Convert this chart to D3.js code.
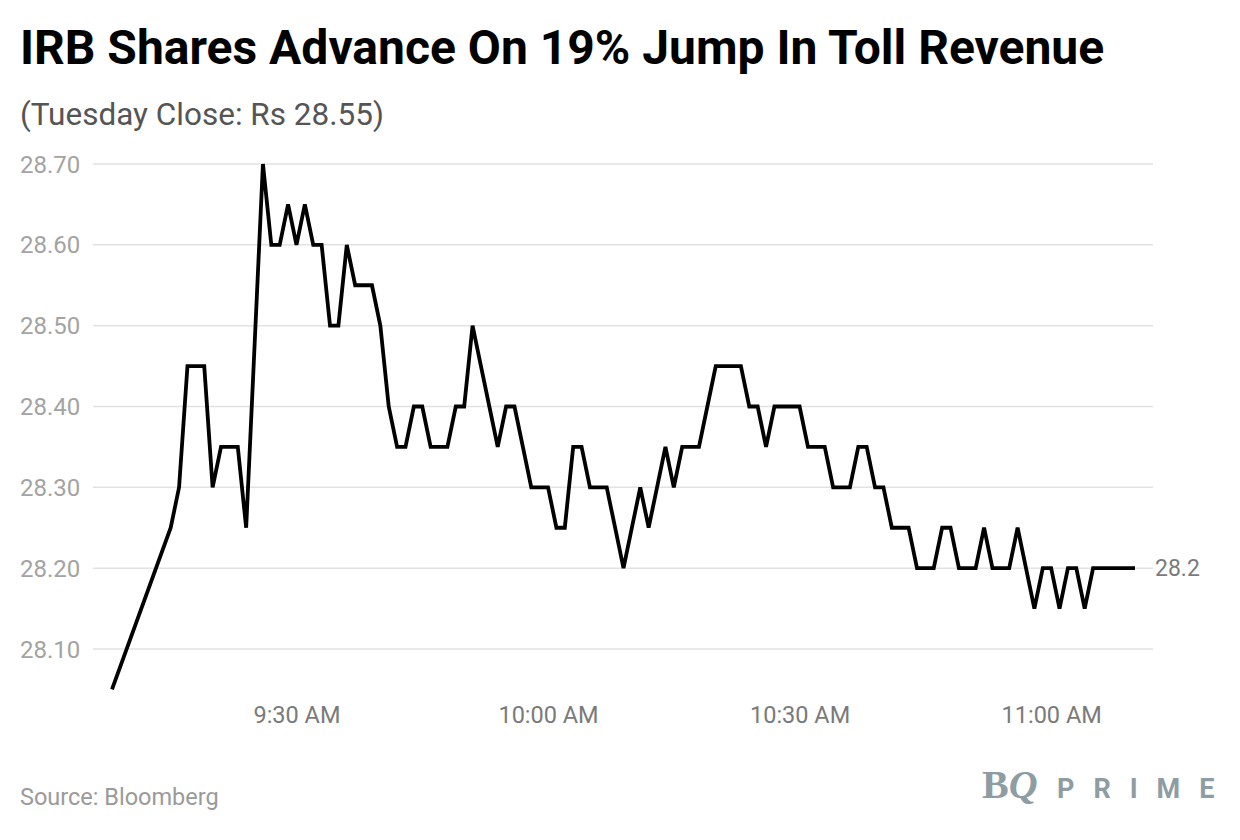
<!DOCTYPE html>
<html>
<head>
<meta charset="utf-8">
<script src="https://cdn.jsdelivr.net/npm/d3@7"></script>
<style>
  body { margin: 0; background: #fff; }
  text { font-family: Roboto, "Noto Sans", sans-serif; }
</style>
</head>
<body>
<div id="canvas"></div>
<script>
// minute-by-minute trade times and prices
const times = [
  "09:08", "09:15", "09:16", "09:17", "09:18", "09:19", "09:20", "09:21", "09:22", "09:23",
  "09:24", "09:26", "09:27", "09:28", "09:29", "09:30", "09:31", "09:32", "09:33", "09:34",
  "09:35", "09:36", "09:37", "09:38", "09:39", "09:40", "09:41", "09:42", "09:43", "09:44",
  "09:45", "09:46", "09:47", "09:48", "09:49", "09:50", "09:51", "09:52", "09:53", "09:54",
  "09:55", "09:56", "09:57", "09:58", "09:59", "10:00", "10:01", "10:02", "10:03", "10:04",
  "10:05", "10:06", "10:07", "10:08", "10:09", "10:10", "10:11", "10:12", "10:13", "10:14",
  "10:15", "10:16", "10:17", "10:18", "10:19", "10:20", "10:21", "10:22", "10:23", "10:24",
  "10:25", "10:26", "10:27", "10:28", "10:29", "10:30", "10:31", "10:32", "10:33", "10:34",
  "10:35", "10:36", "10:37", "10:38", "10:39", "10:40", "10:41", "10:42", "10:43", "10:44",
  "10:45", "10:46", "10:47", "10:48", "10:49", "10:50", "10:51", "10:52", "10:53", "10:54",
  "10:55", "10:56", "10:57", "10:58", "10:59", "11:00", "11:01", "11:02", "11:03", "11:04",
  "11:05", "11:06", "11:07", "11:08", "11:09", "11:10"
];
const prices = [
  28.05, 28.25, 28.30, 28.45, 28.45, 28.45, 28.30, 28.35, 28.35, 28.35,
  28.25, 28.70, 28.60, 28.60, 28.65, 28.60, 28.65, 28.60, 28.60, 28.50,
  28.50, 28.60, 28.55, 28.55, 28.55, 28.50, 28.40, 28.35, 28.35, 28.40,
  28.40, 28.35, 28.35, 28.35, 28.40, 28.40, 28.50, 28.45, 28.40, 28.35,
  28.40, 28.40, 28.35, 28.30, 28.30, 28.30, 28.25, 28.25, 28.35, 28.35,
  28.30, 28.30, 28.30, 28.25, 28.20, 28.25, 28.30, 28.25, 28.30, 28.35,
  28.30, 28.35, 28.35, 28.35, 28.40, 28.45, 28.45, 28.45, 28.45, 28.40,
  28.40, 28.35, 28.40, 28.40, 28.40, 28.40, 28.35, 28.35, 28.35, 28.30,
  28.30, 28.30, 28.35, 28.35, 28.30, 28.30, 28.25, 28.25, 28.25, 28.20,
  28.20, 28.20, 28.25, 28.25, 28.20, 28.20, 28.20, 28.25, 28.20, 28.20,
  28.20, 28.25, 28.20, 28.15, 28.20, 28.20, 28.15, 28.20, 28.20, 28.15,
  28.20, 28.20, 28.20, 28.20, 28.20, 28.20
];
const yTicks = [28.10, 28.20, 28.30, 28.40, 28.50, 28.60, 28.70];
const xTicks = ["09:30", "10:00", "10:30", "11:00"];
const lastLabel = "28.2";

const title = "IRB Shares Advance On 19% Jump In Toll Revenue";
const subtitle = "(Tuesday Close: Rs 28.55)";
const source = "Source: Bloomberg";

const width = 1240;
const height = 840;

const parseTime = d3.timeParse("%H:%M");
const data = times.map((t, i) => ({ time: parseTime(t), price: prices[i] }));

const svg = d3.select("#canvas").append("svg")
    .attr("width", width)
    .attr("height", height);

svg.append("rect").attr("width", width).attr("height", height).attr("fill", "#fff");

const x = d3.scaleTime()
    .domain(d3.extent(data, (d) => d.time))
    .range([112, 1135]);

const y = d3.scaleLinear()
    .domain([28.05, 28.70])
    .range([689.4, 164]);

// gridlines + y labels
const grid = svg.append("g");
grid.selectAll("line").data(yTicks).enter().append("line")
    .attr("x1", 93)
    .attr("x2", 1153)
    .attr("y1", (d) => y(d))
    .attr("y2", (d) => y(d))
    .attr("stroke", "#e2e2e2")
    .attr("stroke-width", 1.5);

grid.selectAll("text").data(yTicks).enter().append("text")
    .attr("x", 20)
    .attr("y", (d) => y(d))
    .attr("dy", "0.36em")
    .attr("fill", "#a3a3a3")
    .style("font-size", "24px")
    .text((d) => d3.format(".2f")(d));

// x axis labels
const xAxis = d3.axisBottom(x)
    .tickValues(xTicks.map(parseTime))
    .tickFormat(d3.timeFormat("%-I:%M %p"))
    .tickSize(0)
    .tickPadding(0);

const gx = svg.append("g")
    .attr("transform", "translate(0,706)")
    .call(xAxis);
gx.select(".domain").remove();
gx.selectAll("text")
    .attr("fill", "#7a7a7a")
    .style("font-family", "Roboto, sans-serif")
    .style("font-size", "23.5px");

// price line
const line = d3.line()
    .x((d) => x(d.time))
    .y((d) => y(d.price));

svg.append("path")
    .datum(data)
    .attr("fill", "none")
    .attr("stroke", "#000")
    .attr("stroke-width", 3.8)
    .attr("stroke-linejoin", "miter")
    .attr("d", line);

const last = data[data.length - 1];
svg.append("text")
    .attr("x", 1155)
    .attr("y", y(last.price))
    .attr("dy", "0.36em")
    .attr("fill", "#7a7a7a")
    .style("font-size", "23px")
    .text(lastLabel);

// titles
svg.append("text")
    .attr("x", 20)
    .attr("y", 64)
    .attr("fill", "#000")
    .style("font-size", "48px")
    .style("font-weight", "700")
    .text(title);

svg.append("text")
    .attr("x", 20)
    .attr("y", 125)
    .attr("fill", "#555")
    .style("font-size", "31.5px")
    .text(subtitle);

svg.append("text")
    .attr("x", 20)
    .attr("y", 805)
    .attr("fill", "#9a9a9a")
    .style("font-size", "23.5px")
    .text(source);

// logo
const logo = svg.append("g").attr("fill", "#8e9ca4");
logo.append("text")
    .attr("x", 982)
    .attr("y", 798)
    .style("font-family", "'Liberation Serif', 'DejaVu Serif', serif")
    .style("font-size", "40px")
    .style("font-weight", "700")
    .text("B")
    .append("tspan")
    .style("font-style", "italic")
    .text("Q");
logo.append("text")
    .attr("x", 1057)
    .attr("y", 798)
    .style("font-size", "27px")
    .style("font-weight", "700")
    .style("letter-spacing", "19px")
    .text("PRIME");
</script>
</body>
</html>
